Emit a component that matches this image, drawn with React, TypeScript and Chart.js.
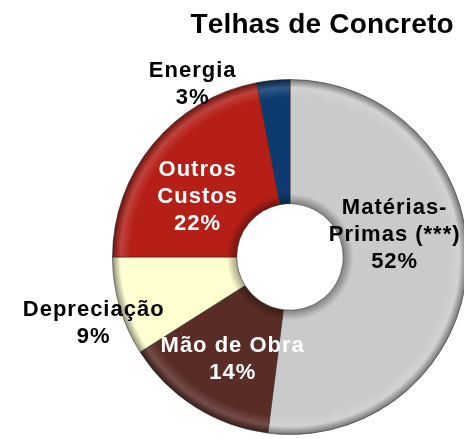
import React, { useEffect, useRef } from "react";
import { Chart, registerables } from "chart.js";

Chart.register(...registerables);

const title = "Telhas de Concreto";
const categories = ["Matérias-Primas (***)", "Mão de Obra", "Depreciação", "Outros Custos", "Energia"];
const labelLines = [["Matérias-", "Primas (***)"], ["Mão de Obra"], ["Depreciação"], ["Outros", "Custos"], ["Energia"]];
const shares = [52, 14, 9, 22, 3];
const percentLabels = ["52%", "14%", "9%", "22%", "3%"];

const sliceColors = ["#CACACA", "#5A2C26", "#FFFFD0", "#B51F18", "#0D3A70"];
const labelColors = ["#000000", "#FFFFFF", "#000000", "#FFFFFF", "#000000"];
const labelNudges: [number, number][] = [[-11, -29], [4, 5], [-86, 34], [-4, 13], [-87, -58]];

const CUTOUT = 0.3;

function shade(hex: string, f: number): string {
  const n = parseInt(hex.slice(1), 16);
  let r = (n >> 16) & 255, g = (n >> 8) & 255, b = n & 255;
  if (f < 0) {
    r = Math.round(r * (1 + f)); g = Math.round(g * (1 + f)); b = Math.round(b * (1 + f));
  } else {
    r = Math.round(r + (255 - r) * f); g = Math.round(g + (255 - g) * f); b = Math.round(b + (255 - b) * f);
  }
  return `rgb(${r},${g},${b})`;
}

function drawSpaced(ctx: any, text: string, cx: number, y: number, spacing: number) {
  // centre text with extra letter spacing
  let total = 0;
  const widths = Array.from(text).map((ch) => {
    const w = ctx.measureText(ch).width;
    total += w;
    return w;
  });
  total += spacing * (widths.length - 1);
  let x = cx - total / 2;
  const prevAlign = ctx.textAlign;
  ctx.textAlign = "left";
  Array.from(text).forEach((ch, i) => {
    ctx.fillText(ch, x, y);
    x += widths[i] + spacing;
  });
  ctx.textAlign = prevAlign;
}

const labelPlugin = {
  id: "sliceLabels",
  afterDatasetsDraw(chart: any) {
    const ctx = chart.ctx;
    const meta = chart.getDatasetMeta(0);
    ctx.save();
    ctx.textAlign = "center";
    ctx.textBaseline = "middle";
    ctx.font = "bold 22px 'Liberation Sans', Arial, sans-serif";
    meta.data.forEach((arc: any, i: number) => {
      const p = arc.tooltipPosition();
      const lines = [...labelLines[i], percentLabels[i]];
      const lh = 27;
      const cx = p.x + labelNudges[i][0];
      const cy = p.y + labelNudges[i][1];
      const y0 = cy - ((lines.length - 1) * lh) / 2;
      ctx.fillStyle = labelColors[i];
      lines.forEach((t, k) => drawSpaced(ctx, t, cx, y0 + k * lh, 1));
    });
    // title
    ctx.fillStyle = "#000";
    ctx.font = "bold 28px 'Liberation Sans', Arial, sans-serif";
    ctx.textBaseline = "alphabetic";
    drawSpaced(ctx, title, 322, 33, 0.2);
    ctx.restore();
  },
};

export default function App() {
  const ref = useRef<HTMLCanvasElement>(null);
  useEffect(() => {
    if (!ref.current) return;
    const chart = new Chart(ref.current, {
      type: "doughnut",
      data: {
        labels: categories,
        datasets: [
          {
            data: shares,
            backgroundColor: (c: any) => {
              const base = sliceColors[c.dataIndex] ?? "#ccc";
              const area = c.chart.chartArea;
              if (!area) return base;
              const cx = (area.left + area.right) / 2;
              const cy = (area.top + area.bottom) / 2;
              const ro = Math.min(area.right - area.left, area.bottom - area.top) / 2;
              const ri = ro * CUTOUT;
              const g = c.chart.ctx.createRadialGradient(cx, cy, ri, cx, cy, ro);
              g.addColorStop(0, shade(base, -0.35));
              g.addColorStop(0.08, base);
              g.addColorStop(0.85, base);
              g.addColorStop(0.93, shade(base, 0.15));
              g.addColorStop(1, shade(base, -0.45));
              return g;
            },
            borderColor: "rgba(40,40,40,0.55)",
            borderWidth: 1,
          },
        ],
      },
      options: {
        animation: false,
        responsive: false,
        cutout: `${CUTOUT * 100}%`,
        rotation: 0,
        layout: { padding: { left: 112, right: 12, top: 79, bottom: 4 } },
        plugins: {
          legend: { display: false },
          tooltip: { enabled: false },
          title: { display: false },
        },
      },
      plugins: [labelPlugin],
    });
    return () => chart.destroy();
  }, []);
  return (
    <div style={{ position: "fixed", left: 0, top: 0, width: 464, height: 439, overflow: "hidden", background: "#fff" }}>
      <canvas ref={ref} width={480} height={439} style={{ width: 480, height: 439, display: "block" }} />
    </div>
  );
}
